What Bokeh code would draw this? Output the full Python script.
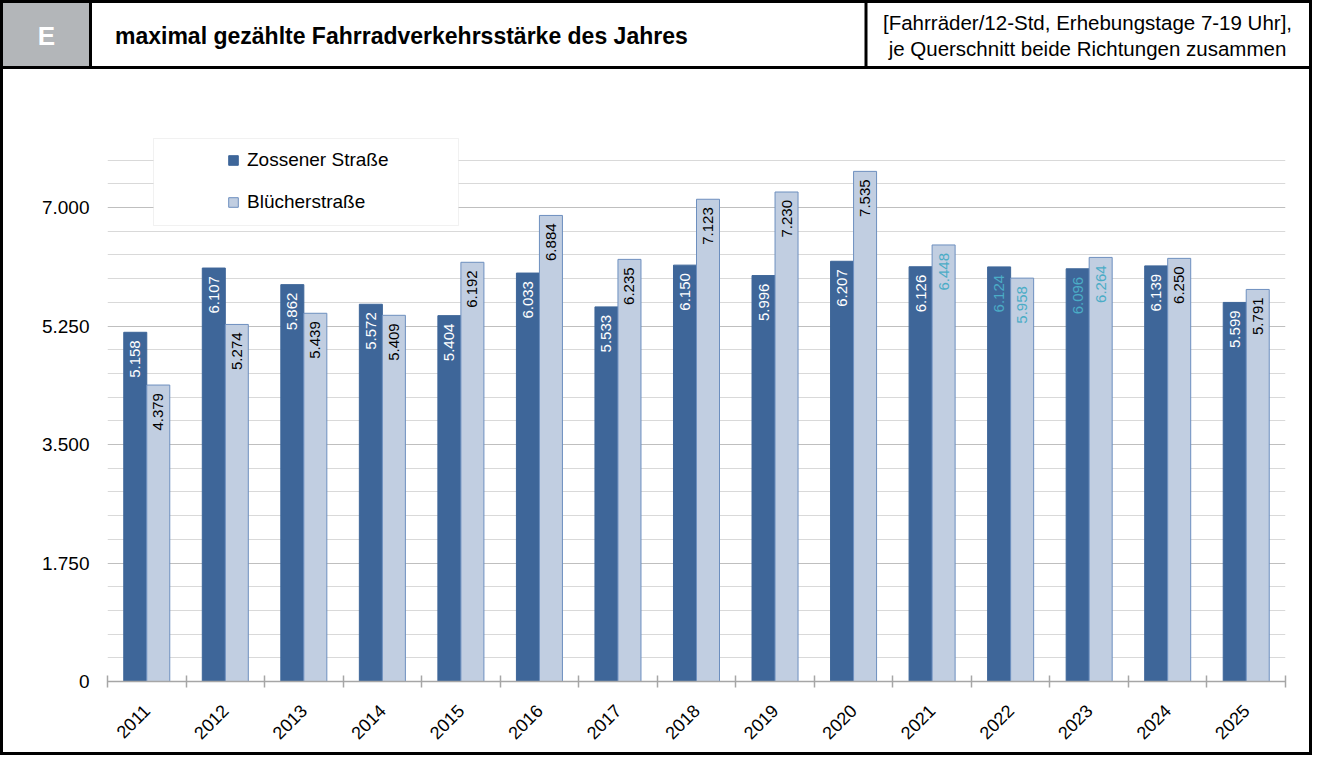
from math import pi
from bokeh.plotting import figure
from bokeh.layouts import column
from bokeh.models import (FactorRange, Range1d, LinearAxis, FixedTicker, Legend, LegendItem,
                          BoxAnnotation, ColumnDataSource, Grid, Div)
from bokeh.transform import dodge
from bokeh.core.properties import value
from bokeh.embed import file_html
from bokeh.resources import INLINE

# ---------------- data ----------------
years = ["2011", "2012", "2013", "2014", "2015", "2016", "2017", "2018",
         "2019", "2020", "2021", "2022", "2023", "2024", "2025"]
zossener = [5158, 6107, 5862, 5572, 5404, 6033, 5533, 6150, 5996, 6207, 6126, 6124, 6096, 6139, 5599]
bluecher = [4379, 5274, 5439, 5409, 6192, 6884, 6235, 7123, 7230, 7535, 6448, 5958, 6264, 6250, 5791]
series_names = ["Zossener Straße", "Blücherstraße"]
y_ticks = [0, 1750, 3500, 5250, 7000]
header_letter = "E"
title_text = "maximal gezählte Fahrradverkehrsstärke des Jahres"
unit_lines = ["[Fahrräder/12-Std, Erhebungstage 7-19 Uhr],",
              "je Querschnitt beide Richtungen zusammen"]

WHITE, BLACK, CYAN = "#ffffff", "#000000", "#4bacc6"
zossener_label_colors = [WHITE] * 11 + [CYAN, CYAN] + [WHITE, WHITE]
bluecher_label_colors = [BLACK] * 10 + [CYAN, CYAN, CYAN] + [BLACK, BLACK]

DARK = "#3e6699"
LIGHT = "#c1cee1"
LIGHT_EDGE = "#6d8fbf"
FONT = "Liberation Sans"


def fmt(v):
    return f"{v:,}".replace(",", ".")


# ---------------- header (inline svg, real text) ----------------
HW, HH = 1306, 66
txt = 'font-family="Liberation Sans, Arial, sans-serif" dominant-baseline="central"'
header_svg = f'''<svg xmlns="http://www.w3.org/2000/svg" width="{HW}" height="{HH}" style="display:block">
<rect x="0" y="0" width="87" height="{HH}" fill="#b3b6b9"/>
<line x1="87.5" y1="0" x2="87.5" y2="{HH}" stroke="black" stroke-width="3"/>
<line x1="863" y1="0" x2="863" y2="{HH}" stroke="black" stroke-width="3"/>
<line x1="0" y1="{HH - 1.5}" x2="{HW}" y2="{HH - 1.5}" stroke="black" stroke-width="3"/>
<text x="43.5" y="33" {txt} text-anchor="middle" font-weight="bold" font-size="26px" fill="white">{header_letter}</text>
<text x="112" y="33" {txt} text-anchor="start" font-weight="bold" font-size="23px" fill="black">{title_text}</text>
<text x="1084.5" y="19" {txt} text-anchor="middle" font-size="20.5px" fill="black">{unit_lines[0]}</text>
<text x="1084.5" y="45" {txt} text-anchor="middle" font-size="20.5px" fill="black">{unit_lines[1]}</text>
</svg>'''
header = Div(text=header_svg, width=HW, height=HH, styles={"margin": "0", "padding": "0"})

# ---------------- chart ----------------
W, H = 1306, 683
ML, MR, MT, MB = 104, 24, 67, 71

src = ColumnDataSource(dict(
    year=years, z=zossener, b=bluecher,
    zl=[fmt(v) for v in zossener], bl=[fmt(v) for v in bluecher],
    zc=zossener_label_colors, bc=bluecher_label_colors,
))

p = figure(width=W, height=H, x_range=FactorRange(factors=years, range_padding=0),
           y_range=Range1d(0, 8050), output_backend="svg", toolbar_location=None,
           x_axis_location=None, y_axis_location=None,
           min_border_left=ML, min_border_right=MR, min_border_top=MT, min_border_bottom=MB,
           outline_line_color=None, background_fill_color="white", border_fill_color="white")
p.grid.visible = False

minor_y = [v for v in range(350, 7701, 350) if v % 1750]
p.add_layout(Grid(dimension=1, ticker=FixedTicker(ticks=y_ticks, minor_ticks=minor_y),
                  grid_line_color="#bfbfbf", grid_line_width=1.2,
                  minor_grid_line_color="#d9d9d9", minor_grid_line_width=1.2))

n = len(years)
xax = LinearAxis(ticker=FixedTicker(ticks=[i + 0.5 for i in range(n)], minor_ticks=list(range(n + 1))),
                 major_label_overrides={i + 0.5: y for i, y in enumerate(years)},
                 major_label_orientation=pi / 4,
                 axis_line_color="#a6a6a6", axis_line_width=1.5,
                 major_tick_line_color=None, major_tick_in=0, major_tick_out=0,
                 minor_tick_line_color="#a6a6a6", minor_tick_line_width=1.5,
                 minor_tick_in=6, minor_tick_out=6,
                 major_label_standoff=20,
                 major_label_text_font=FONT, major_label_text_font_size="18px",
                 major_label_text_color="black")
p.add_layout(xax, "below")

yax = LinearAxis(ticker=FixedTicker(ticks=y_ticks),
                 major_label_overrides={t: fmt(t) for t in y_ticks},
                 axis_line_color=None, major_tick_line_color=None, major_tick_in=0, major_tick_out=0,
                 minor_tick_line_color=None, major_label_standoff=18,
                 major_label_text_font=FONT, major_label_text_font_size="19px",
                 major_label_text_color="black")
p.add_layout(yax, "left")

BW = 0.293
r1 = p.vbar(x=dodge("year", -BW / 2, range=p.x_range), top="z", width=BW, source=src,
            fill_color=DARK, line_color=DARK, line_width=1)
r2 = p.vbar(x=dodge("year", BW / 2, range=p.x_range), top="b", width=BW, source=src,
            fill_color=LIGHT, line_color=LIGHT_EDGE, line_width=1)

for key, lab, col, off in (("z", "zl", "zc", -BW / 2), ("b", "bl", "bc", BW / 2)):
    p.text(x=dodge("year", off, range=p.x_range), y=key, text=lab, text_color=col, source=src,
           angle=pi / 2, text_align="right", text_baseline="middle", y_offset=8,
           text_font=value(FONT), text_font_size="15px")

# legend box + legend
p.add_layout(BoxAnnotation(left=46, right=351, bottom=456, top=543,
                           left_units="screen", right_units="screen",
                           top_units="screen", bottom_units="screen",
                           fill_color="white", fill_alpha=1, line_color="#d0d0d0", line_width=1))
legend = Legend(items=[LegendItem(label=series_names[0], renderers=[r1]),
                       LegendItem(label=series_names[1], renderers=[r2])],
                location=(120, 468), padding=0, spacing=20, margin=0,
                glyph_width=12, glyph_height=12, label_height=22, label_standoff=8,
                background_fill_alpha=0, border_line_color=None,
                label_text_font=FONT, label_text_font_size="19px", label_text_color="black")
p.add_layout(legend, "center")

page = column(header, p, spacing=0, styles={"border": "3px solid black"})
open("out.html", "w").write(file_html(page, INLINE))
